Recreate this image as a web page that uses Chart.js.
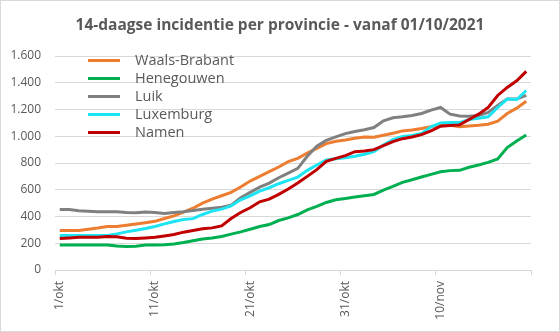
<!DOCTYPE html>
<html>
<head>
<meta charset="utf-8">
<script src="https://cdn.jsdelivr.net/npm/chart.js@4/dist/chart.umd.min.js"></script>
<style>
  html, body { margin: 0; padding: 0; background: #fff; }
  canvas { display: block; }
</style>
</head>
<body>
<canvas id="chart" width="560" height="332"></canvas>
<script>
const titel = '14-daagse incidentie per provincie - vanaf 01/10/2021'

const dagen = [
  '1/okt','2/okt','3/okt','4/okt','5/okt','6/okt','7/okt','8/okt','9/okt','10/okt',
  '11/okt','12/okt','13/okt','14/okt','15/okt','16/okt','17/okt','18/okt','19/okt','20/okt',
  '21/okt','22/okt','23/okt','24/okt','25/okt','26/okt','27/okt','28/okt','29/okt','30/okt',
  '31/okt','1/nov','2/nov','3/nov','4/nov','5/nov','6/nov','7/nov','8/nov','9/nov',
  '10/nov','11/nov','12/nov','13/nov','14/nov','15/nov','16/nov','17/nov','18/nov','19/nov'
]

const waalsBrabant = [295,295,295,305,314,325,325,334,344,354,364,385,405,432,462,500,530,555,580,620,
  665,700,735,770,810,835,875,910,945,962,972,985,995,992,1008,1022,1040,1047,1058,1072,
  1082,1082,1072,1077,1082,1090,1112,1170,1210,1262]
const henegouwen = [186,186,186,186,186,186,180,176,178,186,186,188,195,205,218,232,240,250,268,285,
  305,325,340,370,390,415,450,475,505,525,535,545,555,565,598,625,655,675,695,715,
  735,743,745,768,785,805,830,915,965,1010]
const luik = [453,453,443,440,435,435,435,430,428,433,430,423,430,435,445,455,462,470,485,540,
  580,620,650,690,725,760,850,925,970,995,1020,1035,1048,1065,1115,1138,1145,1155,1170,1195,
  1215,1165,1152,1150,1155,1178,1230,1278,1278,1305]
const luxemburg = [258,258,258,258,258,258,270,285,297,310,325,345,362,378,384,415,440,455,480,525,
  555,590,615,645,670,695,745,785,822,832,840,850,865,885,935,975,998,1005,1020,1070,
  1100,1102,1102,1125,1135,1145,1215,1278,1275,1342]
const namen = [235,240,245,245,245,250,248,237,235,240,245,255,265,283,295,308,315,330,385,430,
  465,510,530,565,605,650,700,750,812,835,855,885,890,900,930,960,982,995,1012,1040,
  1075,1080,1085,1125,1165,1215,1305,1365,1415,1485]

const provincies = ['Waals-Brabant', 'Henegouwen', 'Luik', 'Luxemburg', 'Namen']
const reeksen = [waalsBrabant, henegouwen, luik, luxemburg, namen]
const kleuren = ['#ED7D31', '#00B050', '#808080', '#1DE4F2', '#C00000']

const tekstKleur = '#595959'
const rasterKleur = '#D9D9D9'
const lettertype = '"Open Sans", "DejaVu Sans", sans-serif'

function duizendtal(v){
  return String(v).replace(/\B(?=(\d{3})+(?!\d))/g, '.')
}

// titel gecentreerd over de hele figuur, niet over het plotvlak
const titelPlugin = {
  id: 'titelPlugin',
  afterDraw(chart){
    const ctx = chart.ctx
    ctx.save()
    ctx.font = 'bold 15.5px ' + lettertype
    ctx.fillStyle = tekstKleur
    ctx.textAlign = 'center'
    ctx.textBaseline = 'middle'
    ctx.fillText(titel, chart.width / 2, 25.5)
    ctx.restore()
  }
}

// legende binnen de grafiek, links boven (zoals in Excel)
const legendeBinnen = {
  id: 'legendeBinnen',
  afterDraw(chart){
    const ctx = chart.ctx
    ctx.save()
    ctx.font = '14.5px ' + lettertype
    ctx.textBaseline = 'middle'
    ctx.fillStyle = tekstKleur
    chart.data.datasets.forEach((ds, i) => {
      const y = 60.5 + i * 18
      ctx.strokeStyle = ds.borderColor
      ctx.lineWidth = 3
      ctx.beginPath()
      ctx.moveTo(88, y)
      ctx.lineTo(120, y)
      ctx.stroke()
      ctx.fillText(ds.label, 135, y)
    })
    ctx.restore()
  }
}

const kader = {
  id: 'kader',
  beforeDraw(chart){
    const ctx = chart.ctx
    ctx.save()
    ctx.fillStyle = '#fff'
    ctx.fillRect(0, 0, chart.width, chart.height)
    ctx.restore()
  },
  afterDraw(chart){
    const ctx = chart.ctx
    ctx.save()
    ctx.strokeStyle = rasterKleur
    ctx.lineWidth = 1
    ctx.strokeRect(0.5, 0.5, chart.width - 1, chart.height - 1)
    ctx.restore()
  }
}

const datasets = []
for(let i = 0; i < provincies.length; i++){
  datasets.push({
    label: provincies[i],
    data: reeksen[i],
    borderColor: kleuren[i],
    backgroundColor: kleuren[i],
    borderWidth: 3,
    pointRadius: 0,
    tension: 0,
    fill: false,
    order: provincies.length - i
  })
}

const myChart = new Chart(document.getElementById('chart'), {
  type: 'line',
  data: { labels: dagen, datasets: datasets },
  options: {
    responsive: false,
    animation: false,
    layout: { padding: { left: 0, right: 29, top: 56, bottom: 0 } },
    plugins: {
      legend: { display: false },
      tooltip: { enabled: false },
      title: { display: false }
    },
    scales: {
      x: {
        offset: true,
        grid: {
          offset: true,
          drawOnChartArea: false,
          tickLength: 5,
          color: (c) => (c.index === undefined || c.index % 10 === 0) ? rasterKleur : 'rgba(0,0,0,0)'
        },
        border: { color: rasterKleur },
        ticks: {
          autoSkip: false,
          minRotation: 90,
          maxRotation: 90,
          padding: 6,
          color: tekstKleur,
          font: { family: lettertype, size: 12 },
          callback: (v, i) => i % 10 === 0 ? dagen[i] : ''
        },
        afterFit: (s) => { s.height = 62 }
      },
      y: {
        min: 0,
        max: 1600,
        ticks: {
          stepSize: 200,
          padding: 14,
          color: tekstKleur,
          font: { family: lettertype, size: 12 },
          callback: (v) => duizendtal(v)
        },
        grid: { color: rasterKleur, drawTicks: false },
        border: { display: false },
        afterFit: (s) => { s.width = 55 }
      }
    }
  },
  plugins: [kader, titelPlugin, legendeBinnen]
})
</script>
</body>
</html>
